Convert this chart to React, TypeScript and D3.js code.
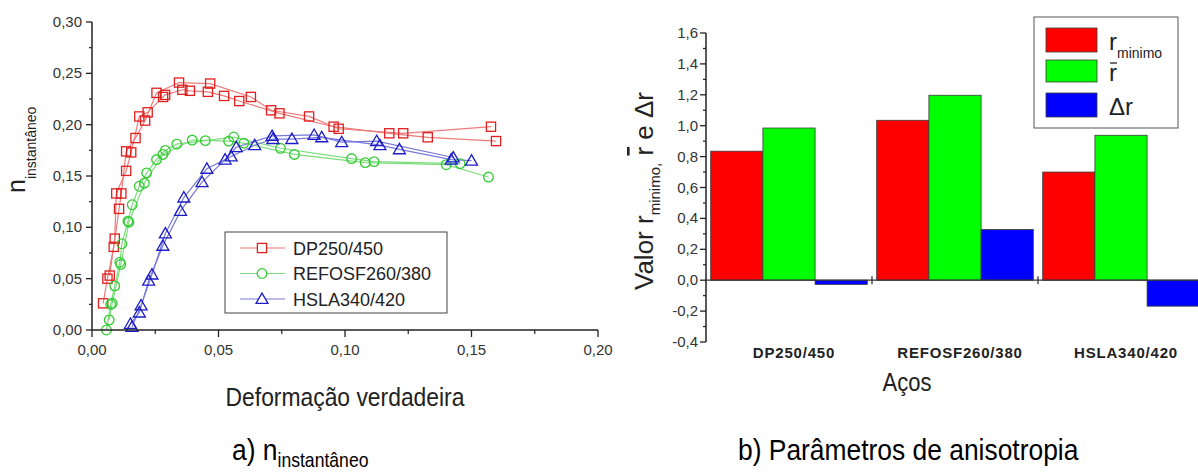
import React from "react";
import * as d3 from "d3";

// n instantaneo vs deformacao verdadeira (two measured curves per steel)
const dpA = [[0.0044,0.026],[0.0061,0.050],[0.0086,0.081],[0.0107,0.118],[0.0116,0.133],[0.0135,0.174],[0.0172,0.187],[0.0210,0.204],[0.0255,0.231],[0.0344,0.241],[0.0467,0.240],[0.0628,0.227],[0.0708,0.214],[0.0858,0.208],[0.0975,0.196],[0.1230,0.1916],[0.1577,0.198]];
const dpB = [[0.0070,0.053],[0.0090,0.089],[0.0096,0.133],[0.0135,0.155],[0.0155,0.173],[0.0187,0.208],[0.0220,0.212],[0.0281,0.227],[0.0289,0.229],[0.0357,0.234],[0.0387,0.233],[0.0458,0.232],[0.0522,0.228],[0.0582,0.223],[0.0741,0.211],[0.0955,0.198],[0.1175,0.1916],[0.1327,0.1877],[0.1597,0.184]];
const refA = [[0.0057,0.000],[0.0074,0.025],[0.0090,0.043],[0.0110,0.066],[0.0118,0.084],[0.0142,0.106],[0.0159,0.122],[0.0187,0.140],[0.0216,0.153],[0.0255,0.166],[0.0290,0.175],[0.0335,0.181],[0.0448,0.1845],[0.0560,0.188],[0.0745,0.177],[0.1026,0.167],[0.1115,0.164],[0.1455,0.162]];
const refB = [[0.0068,0.0098],[0.0080,0.026],[0.0114,0.064],[0.0146,0.105],[0.0207,0.143],[0.0280,0.171],[0.0396,0.185],[0.0540,0.184],[0.0600,0.182],[0.0800,0.171],[0.1080,0.163],[0.1400,0.161],[0.1567,0.149]];
const hslaA = [[0.0152,0.006],[0.0187,0.017],[0.0224,0.048],[0.0280,0.082],[0.0350,0.116],[0.0435,0.144],[0.0526,0.166],[0.0570,0.178],[0.0712,0.189],[0.0878,0.190],[0.0987,0.183],[0.1125,0.184],[0.1428,0.168]];
const hslaB = [[0.0158,0.003],[0.0194,0.024],[0.0237,0.054],[0.0290,0.094],[0.0363,0.129],[0.0454,0.157],[0.0550,0.169],[0.0643,0.180],[0.0715,0.186],[0.0790,0.186],[0.0908,0.1877],[0.1138,0.180],[0.1215,0.176],[0.1420,0.166],[0.1500,0.165]];

const steels = ["DP250/450", "REFOSF260/380", "HSLA340/420"];
const xTicks = [0, 0.05, 0.1, 0.15, 0.2];
const yTicks = [0, 0.05, 0.1, 0.15, 0.2, 0.25, 0.3];

// anisotropy parameters
const rMin = [0.835, 1.035, 0.70];
const rMed = [0.985, 1.197, 0.938];
const deltaR = [-0.027, 0.328, -0.168];
const barTicks = [-0.4, -0.2, 0, 0.2, 0.4, 0.6, 0.8, 1.0, 1.2, 1.4, 1.6];

const FONT = "'Liberation Sans', Arial, Helvetica, sans-serif";
const fmt = (v: number, d: number) => v.toFixed(d).replace(".", ",");
const NARROW = 0.88; // the original's lettering is slightly condensed

function Marker({ kind, x, y, color, fill = "none" }: any) {
  if (kind === "sq") return <rect x={x - 4.6} y={y - 4.6} width={9.2} height={9.2} fill={fill} stroke={color} strokeWidth={1.3} />;
  if (kind === "ci") return <circle cx={x} cy={y} r={4.8} fill={fill} stroke={color} strokeWidth={1.3} />;
  const s = d3.symbol(d3.symbolTriangle, 62)();
  return <path d={s as string} transform={`translate(${x},${y + 1})`} fill={fill} stroke={color} strokeWidth={1.3} />;
}

function LeftChart() {
  const x = d3.scaleLinear().domain([0, 0.2]).range([92, 598]);
  const y = d3.scaleLinear().domain([0, 0.3]).range([330, 22]);
  const line = d3.line<number[]>().x(d => x(d[0])).y(d => y(d[1]));
  const series = [
    { name: steels[0], kind: "sq", color: "#e01f1f", lc: "#ec7b7b", data: [dpA, dpB] },
    { name: steels[1], kind: "ci", color: "#33cc33", lc: "#7ddc7d", data: [refA, refB] },
    { name: steels[2], kind: "tr", color: "#1c1cc8", lc: "#7878dc", data: [hslaA, hslaB] },
  ];
  const minorX = d3.range(0.025, 0.2, 0.05);
  const minorY = d3.range(0.025, 0.3, 0.05);
  return (
    <g fontFamily={FONT}>
      {series.map(s => s.data.map((d, i) => (
        <path key={s.name + i} d={line(d) as string} fill="none" stroke={s.lc} strokeWidth={1.2} />
      )))}
      {series.map(s => s.data.map((d, i) => d.map((p, j) => (
        <Marker key={s.name + i + "-" + j} kind={s.kind} x={x(p[0])} y={y(p[1])} color={s.color} />
      ))))}
      {/* axes */}
      <line x1={92} x2={92} y1={y(0.3)} y2={y(0)} stroke="#222" strokeWidth={1.5} />
      <line x1={92} x2={x(0.2)} y1={330} y2={330} stroke="#222" strokeWidth={1.5} />
      {yTicks.map(t => (
        <g key={"yt" + t}>
          <line x1={86} x2={92} y1={y(t)} y2={y(t)} stroke="#222" strokeWidth={1.3} />
          <text x={82} y={y(t) + 5} textAnchor="end" fontSize={15} fill="#333">{fmt(t, 2)}</text>
        </g>
      ))}
      {minorY.map(t => <line key={"my" + t} x1={89} x2={92} y1={y(t)} y2={y(t)} stroke="#222" strokeWidth={1.2} />)}
      {xTicks.map(t => (
        <g key={"xt" + t}>
          <line x1={x(t)} x2={x(t)} y1={330} y2={337} stroke="#222" strokeWidth={1.3} />
          <text x={x(t)} y={355} textAnchor="middle" fontSize={15} fill="#333">{fmt(t, 2)}</text>
        </g>
      ))}
      {minorX.map(t => <line key={"mx" + t} x1={x(t)} x2={x(t)} y1={330} y2={334} stroke="#222" strokeWidth={1.2} />)}
      {/* axis titles */}
      <text transform={`translate(345,406) scale(${NARROW},1)`} textAnchor="middle" fontSize={26} fill="#222">Deformação verdadeira</text>
      <text transform="translate(25,193) rotate(-90)" fontSize={25} fill="#222">
        n<tspan fontSize={14} dy={11}>instantâneo</tspan>
      </text>
      {/* legend */}
      <rect x={225} y={232} width={222} height={81} fill="#fff" stroke="#444" strokeWidth={1} />
      {series.map((s, i) => {
        const cy = 248 + i * 25.5;
        return (
          <g key={"lg" + s.name}>
            <line x1={240} x2={285} y1={cy} y2={cy} stroke={s.lc} strokeWidth={1.2} />
            <Marker kind={s.kind} x={262} y={cy} color={s.color} fill="#fff" />
            <text x={293} y={cy + 6.5} fontSize={18} fill="#222">{s.name}</text>
          </g>
        );
      })}
      <text transform={`translate(232,460) scale(${NARROW},1)`} fontSize={30} fill="#000">
        a) n<tspan fontSize={20} dy={7}>instantâneo</tspan>
      </text>
    </g>
  );
}

function RightChart() {
  const y = d3.scaleLinear().domain([-0.4, 1.6]).range([342, 33]);
  const x0 = d3.scaleBand().domain(steels).range([706, 1204]);
  const x1 = d3.scaleBand().domain(["rMin", "rMed", "dR"]).range([0, x0.bandwidth()]).paddingOuter(0.09);
  const keys = [
    { key: "rMin", vals: rMin, color: "#ff0000" },
    { key: "rMed", vals: rMed, color: "#00ff00" },
    { key: "dR", vals: deltaR, color: "#0000ff" },
  ];
  const minor = d3.range(-0.3, 1.6, 0.2);
  return (
    <g fontFamily={FONT}>
      {keys.map(k => steels.map((s, i) => {
        const v = k.vals[i];
        const bx = (x0(s) as number) + (x1(k.key) as number);
        return (
          <rect key={k.key + s} x={bx} width={x1.bandwidth()} y={Math.min(y(v), y(0))} height={Math.abs(y(v) - y(0))}
            fill={k.color} stroke="#3a3a3a" strokeWidth={0.8} />
        );
      }))}
      <line x1={706} x2={706} y1={33} y2={342} stroke="#222" strokeWidth={1.5} />
      <line x1={706} x2={1204} y1={y(0)} y2={y(0)} stroke="#333" strokeWidth={1.3} />
      {barTicks.map(t => (
        <g key={"bt" + t}>
          <line x1={700} x2={706} y1={y(t)} y2={y(t)} stroke="#222" strokeWidth={1.3} />
          <text x={698} y={y(t) + 5} textAnchor="end" fontSize={15} fill="#333">{fmt(t, 1)}</text>
        </g>
      ))}
      {minor.map(t => <line key={"bm" + t} x1={703} x2={706} y1={y(t)} y2={y(t)} stroke="#222" strokeWidth={1.2} />)}
      {steels.slice(1).map(s => (
        <line key={"sep" + s} x1={x0(s) as number} x2={x0(s) as number} y1={y(0) - 4} y2={y(0) + 4} stroke="#333" strokeWidth={1.3} />
      ))}
      {steels.map(s => (
        <text key={"cl" + s} x={(x0(s) as number) + x0.bandwidth() / 2 + 5} y={358} textAnchor="middle"
          fontSize={15} fontWeight="bold" letterSpacing={0.8} fill="#222">{s}</text>
      ))}
      <text transform={`translate(907,391) scale(${NARROW},1)`} textAnchor="middle" fontSize={25} fill="#222">Aços</text>
      <text transform="translate(653,290) rotate(-90)" fontSize={26} fill="#222">
        Valor r<tspan fontSize={15} dy={7}>minimo,</tspan>
        <tspan dy={-7}> </tspan><tspan textDecoration="overline">r</tspan> e Δr
      </text>
      {/* legend */}
      <rect x={1034} y={17} width={144} height={111} fill="#fff" stroke="#555" strokeWidth={1} />
      {keys.map((k, i) => (
        <rect key={"lk" + k.key} x={1046} y={[28, 60, 93][i]} width={51} height={[24, 22, 24][i]} fill={k.color} stroke="#3a3a3a" strokeWidth={0.8} />
      ))}
      <text x={1109} y={50} fontSize={24} fill="#222">r<tspan fontSize={14} dy={8}>minimo</tspan></text>
      <line x1={1110} x2={1117} y1={63} y2={63} stroke="#222" strokeWidth={1.3} />
      <text x={1109} y={81} fontSize={24} fill="#222">r</text>
      <text x={1109} y={115} fontSize={24} fill="#222">Δr</text>
      <text transform={`translate(738,460) scale(${NARROW},1)`} fontSize={30} fill="#000">b) Parâmetros de anisotropia</text>
    </g>
  );
}

export default function App() {
  return (
    <svg width={1198} height={472} style={{ position: "absolute", left: 0, top: 0, background: "#fff" }}>
      <rect width={1198} height={472} fill="#fff" />
      <LeftChart />
      <RightChart />
    </svg>
  );
}
